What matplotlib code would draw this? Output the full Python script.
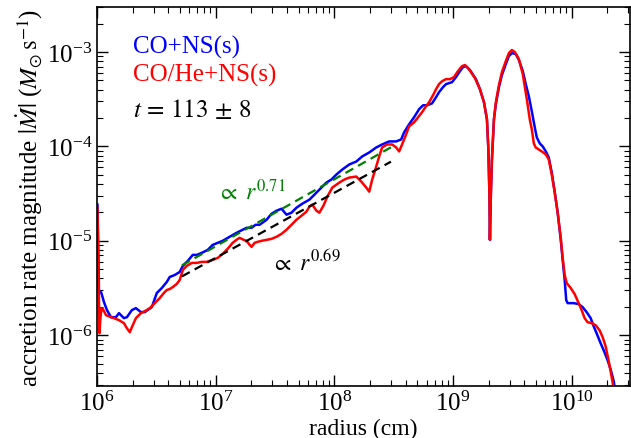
import numpy as np
import matplotlib
matplotlib.use("Agg")
import matplotlib.pyplot as plt

plt.rcParams["font.family"] = ["Liberation Serif", "DejaVu Serif"]
plt.rcParams["mathtext.fontset"] = "stix"

# log10(radius / cm) and log10(|Mdot| / Msun s^-1)
blue_logr = [6.004, 6.017, 6.034, 6.042, 6.059, 6.084, 6.118, 6.160, 6.185, 6.227,
             6.252, 6.294, 6.328, 6.370, 6.403, 6.462, 6.504, 6.546, 6.588, 6.613,
             6.655, 6.697, 6.723, 6.765, 6.807, 6.840, 6.882, 6.933, 6.975, 7.017,
             7.059, 7.118, 7.176, 7.227, 7.261, 7.303, 7.336, 7.370, 7.429, 7.471,
             7.513, 7.555, 7.597, 7.639, 7.681, 7.731, 7.790, 7.832, 7.874, 7.933,
             7.975, 8.017, 8.067, 8.126, 8.185, 8.235, 8.294, 8.353, 8.403, 8.462,
             8.521, 8.563, 8.588, 8.630, 8.672, 8.714, 8.748, 8.782, 8.824, 8.857,
             8.882, 8.916, 8.941, 8.966, 8.992, 9.025, 9.059, 9.084, 9.109, 9.143,
             9.193, 9.227, 9.261, 9.286, 9.298, 9.307, 9.311, 9.319, 9.328, 9.345,
             9.361, 9.387, 9.412, 9.445, 9.471, 9.496, 9.529, 9.555, 9.588, 9.613,
             9.639, 9.664, 9.689, 9.706, 9.731, 9.756, 9.782, 9.807, 9.832, 9.857,
             9.882, 9.908, 9.924, 9.941, 9.954, 9.966, 10.017, 10.059, 10.092, 10.126,
             10.160, 10.185, 10.210, 10.244, 10.277, 10.303, 10.328, 10.353, 10.370]
blue_logm = [-4.617, -5.543, -5.543, -5.574, -5.649, -5.734, -5.809, -5.809, -5.766, -5.819,
             -5.809, -5.734, -5.713, -5.755, -5.755, -5.702, -5.553, -5.500, -5.436, -5.383,
             -5.362, -5.330, -5.266, -5.213, -5.149, -5.149, -5.128, -5.096, -5.043, -5.021,
             -5.000, -4.957, -4.915, -4.883, -4.862, -4.862, -4.830, -4.830, -4.777, -4.713,
             -4.681, -4.660, -4.723, -4.702, -4.649, -4.606, -4.564, -4.511, -4.457, -4.383,
             -4.351, -4.298, -4.245, -4.191, -4.160, -4.106, -4.064, -4.011, -3.979, -3.947,
             -3.947, -3.926, -3.851, -3.766, -3.691, -3.606, -3.564, -3.564, -3.543, -3.479,
             -3.426, -3.372, -3.340, -3.330, -3.319, -3.266, -3.202, -3.160, -3.149, -3.191,
             -3.287, -3.394, -3.532, -3.713, -4.032, -4.511, -4.989, -4.511, -4.138, -3.713,
             -3.553, -3.372, -3.245, -3.128, -3.043, -3.011, -3.021, -3.085, -3.202, -3.340,
             -3.468, -3.628, -3.798, -3.904, -3.968, -4.000, -4.053, -4.117, -4.277, -4.479,
             -4.702, -4.989, -5.202, -5.415, -5.628, -5.660, -5.660, -5.670, -5.702, -5.755,
             -5.819, -5.904, -5.979, -6.085, -6.181, -6.266, -6.362, -6.479, -6.606]

red_logr = [6.004, 6.021, 6.029, 6.038, 6.050, 6.076, 6.118, 6.143, 6.185, 6.227,
            6.252, 6.277, 6.294, 6.328, 6.370, 6.403, 6.445, 6.487, 6.529, 6.563,
            6.588, 6.613, 6.639, 6.672, 6.697, 6.723, 6.756, 6.798, 6.840, 6.882,
            6.924, 6.975, 7.017, 7.059, 7.101, 7.143, 7.176, 7.202, 7.235, 7.261,
            7.286, 7.303, 7.328, 7.353, 7.387, 7.429, 7.471, 7.513, 7.555, 7.597,
            7.639, 7.681, 7.723, 7.765, 7.790, 7.815, 7.849, 7.874, 7.908, 7.941,
            7.983, 8.042, 8.084, 8.126, 8.185, 8.227, 8.269, 8.294, 8.319, 8.353,
            8.378, 8.403, 8.445, 8.487, 8.521, 8.546, 8.571, 8.605, 8.630, 8.672,
            8.706, 8.739, 8.773, 8.798, 8.832, 8.857, 8.882, 8.908, 8.941, 8.975,
            9.008, 9.042, 9.076, 9.101, 9.134, 9.185, 9.227, 9.261, 9.286, 9.298,
            9.307, 9.311, 9.319, 9.328, 9.345, 9.361, 9.387, 9.412, 9.445, 9.471,
            9.496, 9.521, 9.555, 9.588, 9.622, 9.647, 9.664, 9.681, 9.697, 9.723,
            9.748, 9.782, 9.807, 9.832, 9.857, 9.882, 9.908, 9.924, 9.941, 9.958,
            9.992, 10.025, 10.059, 10.084, 10.109, 10.134, 10.168, 10.202, 10.235, 10.261,
            10.286, 10.311, 10.336, 10.361]
red_logm = [-4.649, -5.979, -5.819, -5.713, -5.723, -5.787, -5.809, -5.819, -5.840, -5.872,
            -5.926, -5.968, -5.915, -5.819, -5.766, -5.745, -5.713, -5.660, -5.606, -5.553,
            -5.521, -5.511, -5.489, -5.457, -5.415, -5.309, -5.266, -5.234, -5.234, -5.223,
            -5.223, -5.202, -5.181, -5.138, -5.085, -5.021, -4.989, -4.968, -4.989, -5.000,
            -5.043, -5.064, -5.021, -5.011, -5.000, -4.989, -4.979, -4.957, -4.926, -4.883,
            -4.830, -4.777, -4.734, -4.691, -4.638, -4.617, -4.681, -4.702, -4.628, -4.532,
            -4.436, -4.383, -4.351, -4.330, -4.319, -4.372, -4.436, -4.479, -4.351, -4.213,
            -4.106, -4.011, -3.979, -3.979, -4.011, -4.053, -3.979, -3.872, -3.787, -3.745,
            -3.691, -3.638, -3.574, -3.532, -3.457, -3.394, -3.340, -3.309, -3.287, -3.287,
            -3.266, -3.202, -3.149, -3.138, -3.181, -3.277, -3.394, -3.532, -3.713, -4.032,
            -4.511, -4.989, -4.511, -4.138, -3.713, -3.532, -3.351, -3.213, -3.096, -3.011,
            -2.979, -3.000, -3.074, -3.234, -3.500, -3.713, -3.819, -3.968, -4.011, -4.032,
            -4.053, -4.085, -4.138, -4.298, -4.489, -4.702, -4.968, -5.181, -5.362, -5.447,
            -5.500, -5.564, -5.660, -5.734, -5.819, -5.862, -5.872, -5.894, -5.947, -6.021,
            -6.117, -6.266, -6.436, -6.617]

# power-law fits: (r_start, r_end, Mdot at r_start, exponent)
fit_green = (5.2e6, 3.1e8, 5.5e-6, 0.71)
fit_black = (5.2e6, 3.0e8, 4.2e-6, 0.69)

labels = ["CO+NS(s)", "CO/He+NS(s)"]
colors = ["#0000ff", "#ff0000"]

fig = plt.figure(figsize=(6.31, 4.39), dpi=100)
ax = fig.add_axes([0.1537, 0.1185, 0.8447, 0.8633])

ax.plot(10 ** np.array(blue_logr), 10 ** np.array(blue_logm), color=colors[0], lw=1.8)
ax.plot(10 ** np.array(red_logr), 10 ** np.array(red_logm), color=colors[1], lw=1.8)

for (r0, r1, m0, p), c in [(fit_green, "green"), (fit_black, "black")]:
    r = np.logspace(np.log10(r0), np.log10(r1), 50)
    ax.plot(r, m0 * (r / r0) ** p, ls="--", color=c, lw=1.6, dashes=(4, 2.5))

ax.set_xscale("log")
ax.set_yscale("log")
ax.set_xlim(1e6, 3.1e10)
ax.set_ylim(2.9e-7, 3.0e-3)

ax.text(1.02e7, 10 ** -4.48, r"$\propto\ r^{0.71}$", color="green", fontsize=17, va="center")
ax.text(2.9e7, 10 ** -5.23, r"$\propto\ r^{0.69}$", color="black", fontsize=17, va="center")

ax.text(0.0675, 0.897, labels[0], color=colors[0], fontsize=18, transform=ax.transAxes, va="center")
ax.text(0.0675, 0.823, labels[1], color=colors[1], fontsize=18, transform=ax.transAxes, va="center")
ax.text(0.0675, 0.731, r"$t\,=\,113\,\pm\,8$", color="black", fontsize=18, transform=ax.transAxes, va="center")

ax.set_xlabel("radius (cm)", fontsize=17, labelpad=2)
ax.set_ylabel(r"accretion rate magnitude $|\dot{M}|$ ($M_{\odot}\,\mathrm{s}^{-1}$)", fontsize=18, labelpad=1)

ax.tick_params(which="both", direction="in", top=True, right=True, labelsize=18)
ax.tick_params(which="major", length=8, width=1)
ax.tick_params(which="minor", length=4, width=0.8)
for s in ax.spines.values():
    s.set_linewidth(1.2)

fig.savefig("out.png", dpi=100)
